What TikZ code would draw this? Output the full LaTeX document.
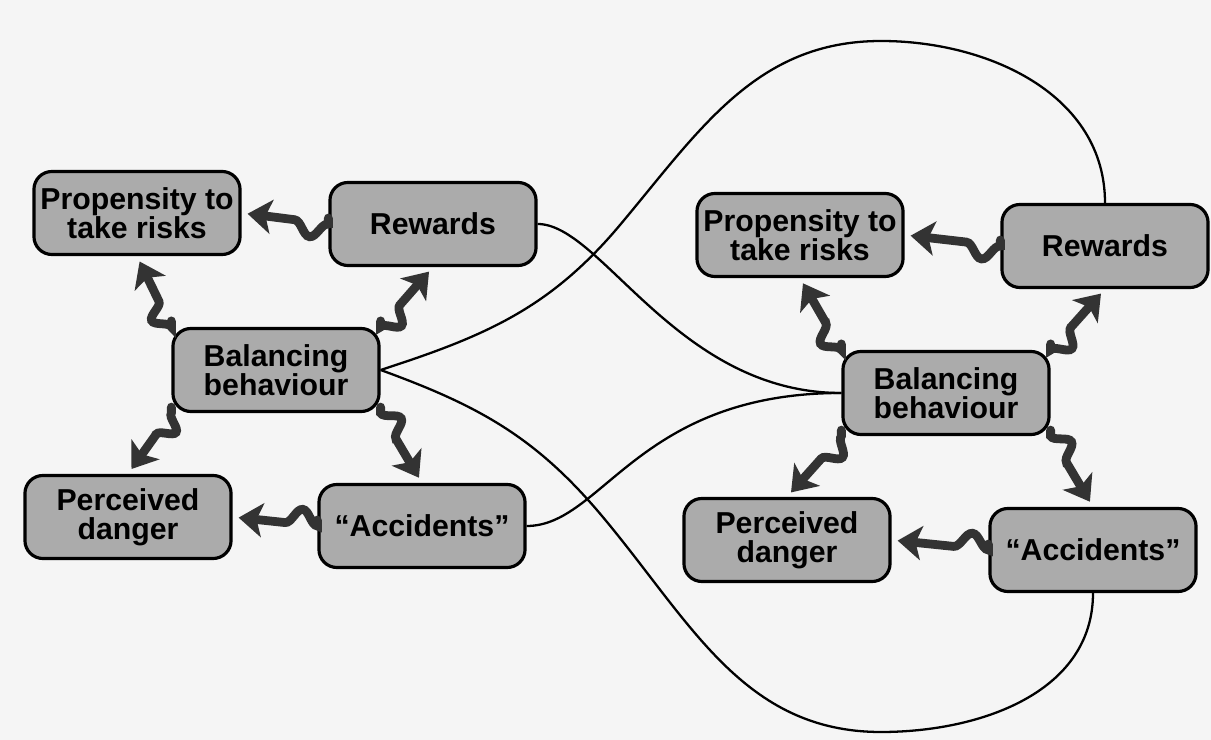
\documentclass[tikz,border=0pt]{standalone}
\usepackage{fontspec}
\setmainfont{Liberation Sans}
\usetikzlibrary{arrows.meta,decorations.pathmorphing}

\begin{document}
\begin{tikzpicture}[x=0.01cm,y=0.01cm,
    box/.style={draw=black,line width=0.9pt,rounded corners=1.8mm,fill=black!33,
      minimum width=2.06cm,minimum height=0.83cm,inner sep=1pt,align=center,
      font=\bfseries\fontsize{8.6}{8.2}\selectfont},
    wave/.style 2 args={draw=black!80,line width=2.5pt,line cap=round,decorate,
      decoration={snake,amplitude=1.5mm,segment length=#1,post length=#2},
      -{Stealth[length=2.4mm,width=3.4mm,inset=0.6mm]},
      shorten <=0.6mm,shorten >=0.6mm},
    flip/.style={decoration={amplitude=-1.5mm}},
    link/.style={draw=black,line width=0.65pt}]
      % 背景
      \path[use as bounding box,fill=black!4] (0,0) rectangle (1211,-740);

      % 左側の箱
      \node[box] (lprop) at (137,-213) {Propensity to\\take risks};
      \node[box] (lrew)  at (433,-224) {Rewards};
      \node[box] (lbal)  at (276,-370) {Balancing\\behaviour};
      \node[box] (lperc) at (128,-517) {Perceived\\danger};
      \node[box] (lacc)  at (422,-526) {“Accidents”};

      % 右側の箱
      \node[box] (rprop) at (800,-235) {Propensity to\\take risks};
      \node[box] (rrew)  at (1105,-246) {Rewards};
      \node[box] (rbal)  at (946,-393) {Balancing\\behaviour};
      \node[box] (rperc) at (787,-540) {Perceived\\danger};
      \node[box] (racc)  at (1093,-550) {“Accidents”};

      % 左側の波矢印
      \draw[wave={5.45mm}{3.2mm}] (lrew.west) -- (lprop.east);
      \draw[wave={5.2mm}{3.2mm},flip] (lacc.west) -- (lperc.east);
      \draw[wave={4.55mm}{3.2mm}] (lbal.north west) -- (lprop.south);
      \draw[wave={4.65mm}{3.2mm},flip] (lbal.north east) -- (lrew.south);
      \draw[wave={4.15mm}{3.2mm}] (lbal.south west) -- (lperc.north);
      \draw[wave={4.8mm}{3.2mm}] (lbal.south east) -- (lacc.north);

      % 右側の波矢印
      \draw[wave={5.5mm}{4.0mm}] (rrew.west) -- (rprop.east);
      \draw[wave={5.6mm}{4.0mm},flip] (racc.west) -- (rperc.east);
      \draw[wave={5.0mm}{3.2mm}] (rbal.north west) -- (rprop.south);
      \draw[wave={4.85mm}{3.2mm},flip] (rbal.north east) -- (rrew.south);
      \draw[wave={4.85mm}{3.2mm}] (rbal.south west) -- (rperc.north);
      \draw[wave={4.95mm}{3.2mm}] (rbal.south east) -- (racc.north);

      % 二つの図をつなぐ線
      \coordinate (upmid) at (620,-225);
      \coordinate (uptop) at (881,-41);
      \coordinate (lowmid) at (602,-516);
      \coordinate (lowbot) at (881,-732);
      \draw[link] (lrew.east) .. controls +(64,0) and +(-164,0) .. (rbal.west);
      \draw[link] (lacc.east) .. controls +(76,0) and +(-204,0) .. (rbal.west);
      \draw[link] (lbal.east) to[out=18,in=230] (upmid)
        to[out=50,in=180] (uptop) to[out=0,in=90] (rrew.north);
      \draw[link] (lbal.east) to[out=-20,in=130] (lowmid)
        to[out=-50,in=180] (lowbot) to[out=0,in=-90] (racc.south);
\end{tikzpicture}
\end{document}
